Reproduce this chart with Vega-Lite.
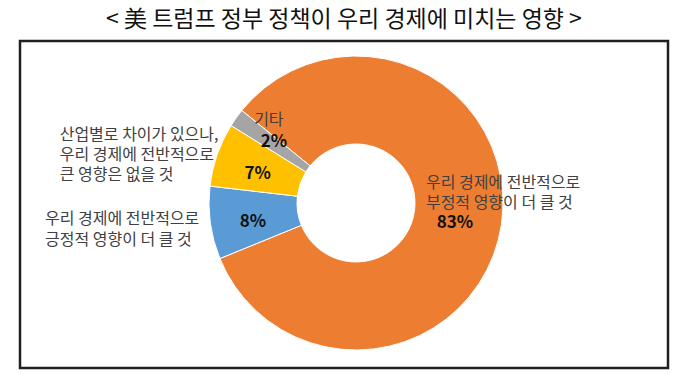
{
  "$schema": "https://vega.github.io/schema/vega-lite/v6.json",
  "width": 648,
  "height": 327,
  "autosize": {"type": "none"},
  "padding": {"left": 20, "top": 41, "right": 12, "bottom": 16},
  "background": "#ffffff",
  "config": {
    "view": {"stroke": null},
    "font": "Noto Sans CJK KR"
  },
  "title": {
    "text": "< 美 트럼프 정부 정책이 우리 경제에 미치는 영향 >",
    "font": "Noto Sans CJK KR",
    "fontSize": 23,
    "fontWeight": "normal",
    "color": "#111111",
    "offset": 8,
    "anchor": "middle",
    "frame": "group"
  },
  "layer": [
    {
      "data": {"values": [{"frame": 1}]},
      "mark": {"type": "rect", "fill": null, "stroke": "#1f1f1f", "strokeWidth": 2.5},
      "encoding": {
        "x": {"value": 0},
        "x2": {"value": "width"},
        "y": {"value": 0},
        "y2": {"value": "height"}
      }
    },
    {
      "data": {
        "values": [
          {"idx": 1, "cat": "부정", "value": 83, "pct": "83%", "label": "우리 경제에 전반적으로\n부정적 영향이 더 클 것"},
          {"idx": 2, "cat": "긍정", "value": 8, "pct": "8%", "label": "우리 경제에 전반적으로\n긍정적 영향이 더 클 것"},
          {"idx": 3, "cat": "영향없음", "value": 7, "pct": "7%", "label": "산업별로 차이가 있으나,\n우리 경제에 전반적으로\n큰 영향은 없을 것"},
          {"idx": 4, "cat": "기타", "value": 2, "pct": "2%", "label": "기타"}
        ]
      },
      "encoding": {
        "theta": {"field": "value", "type": "quantitative", "stack": true, "scale": {"range": [-0.8901, 5.3931]}},
        "order": {"field": "idx", "type": "quantitative"},
        "color": {
          "field": "cat", "type": "nominal", "legend": null,
          "scale": {"domain": ["부정", "긍정", "영향없음", "기타"], "range": ["#ED7D31", "#5B9BD5", "#FFC000", "#A5A5A5"]}
        }
      },
      "layer": [
        {
          "mark": {"type": "arc", "outerRadius": 147, "innerRadius": 59, "stroke": "#ffffff", "strokeWidth": 1, "xOffset": 12, "yOffset": -1.5}
        },
        {
          "mark": {"type": "text", "radius": 102, "dx": 10, "dy": 3.5, "fontSize": 17, "fontWeight": "bold", "font": "Noto Sans CJK KR", "align": "center", "baseline": "middle"},
          "encoding": {
            "text": {"condition": {"test": "datum.idx !== 4", "field": "pct"}, "value": ""},
            "color": {"value": "#111111"},
            "detail": {"field": "cat"}
          }
        },
        {
          "mark": {"type": "text", "radius": 102, "dx": 13, "dy": -3, "fontSize": 17, "fontWeight": "bold", "font": "Noto Sans CJK KR", "align": "center", "baseline": "middle"},
          "encoding": {
            "text": {"condition": {"test": "datum.idx === 4", "field": "pct"}, "value": ""},
            "color": {"value": "#111111"},
            "detail": {"field": "cat"}
          }
        },
        {
          "mark": {"type": "text", "radius": 102, "dx": -19, "dy": -36.5, "fontSize": 16, "letterSpacing": 0.8, "font": "Noto Sans CJK KR", "align": "left", "baseline": "middle", "lineBreak": "\n", "lineHeight": 20.5},
          "encoding": {
            "text": {"condition": {"test": "datum.idx === 1", "field": "label"}, "value": ""},
            "color": {"value": "#404040"},
            "detail": {"field": "cat"}
          }
        },
        {
          "mark": {"type": "text", "radius": 102, "dx": -198, "dy": 1, "fontSize": 16, "letterSpacing": 0.8, "font": "Noto Sans CJK KR", "align": "left", "baseline": "middle", "lineBreak": "\n", "lineHeight": 20.5},
          "encoding": {
            "text": {"condition": {"test": "datum.idx === 2", "field": "label"}, "value": ""},
            "color": {"value": "#404040"},
            "detail": {"field": "cat"}
          }
        },
        {
          "mark": {"type": "text", "radius": 102, "dx": -188, "dy": -36, "fontSize": 16, "letterSpacing": 0.8, "font": "Noto Sans CJK KR", "align": "left", "baseline": "middle", "lineBreak": "\n", "lineHeight": 20},
          "encoding": {
            "text": {"condition": {"test": "datum.idx === 3", "field": "label"}, "value": ""},
            "color": {"value": "#404040"},
            "detail": {"field": "cat"}
          }
        },
        {
          "mark": {"type": "text", "radius": 102, "dx": 8, "dy": -25, "fontSize": 16, "letterSpacing": 0.8, "font": "Noto Sans CJK KR", "align": "center", "baseline": "middle", "lineBreak": "\n", "lineHeight": 20},
          "encoding": {
            "text": {"condition": {"test": "datum.idx === 4", "field": "label"}, "value": ""},
            "color": {"value": "#404040"},
            "detail": {"field": "cat"}
          }
        }
      ]
    }
  ]
}
